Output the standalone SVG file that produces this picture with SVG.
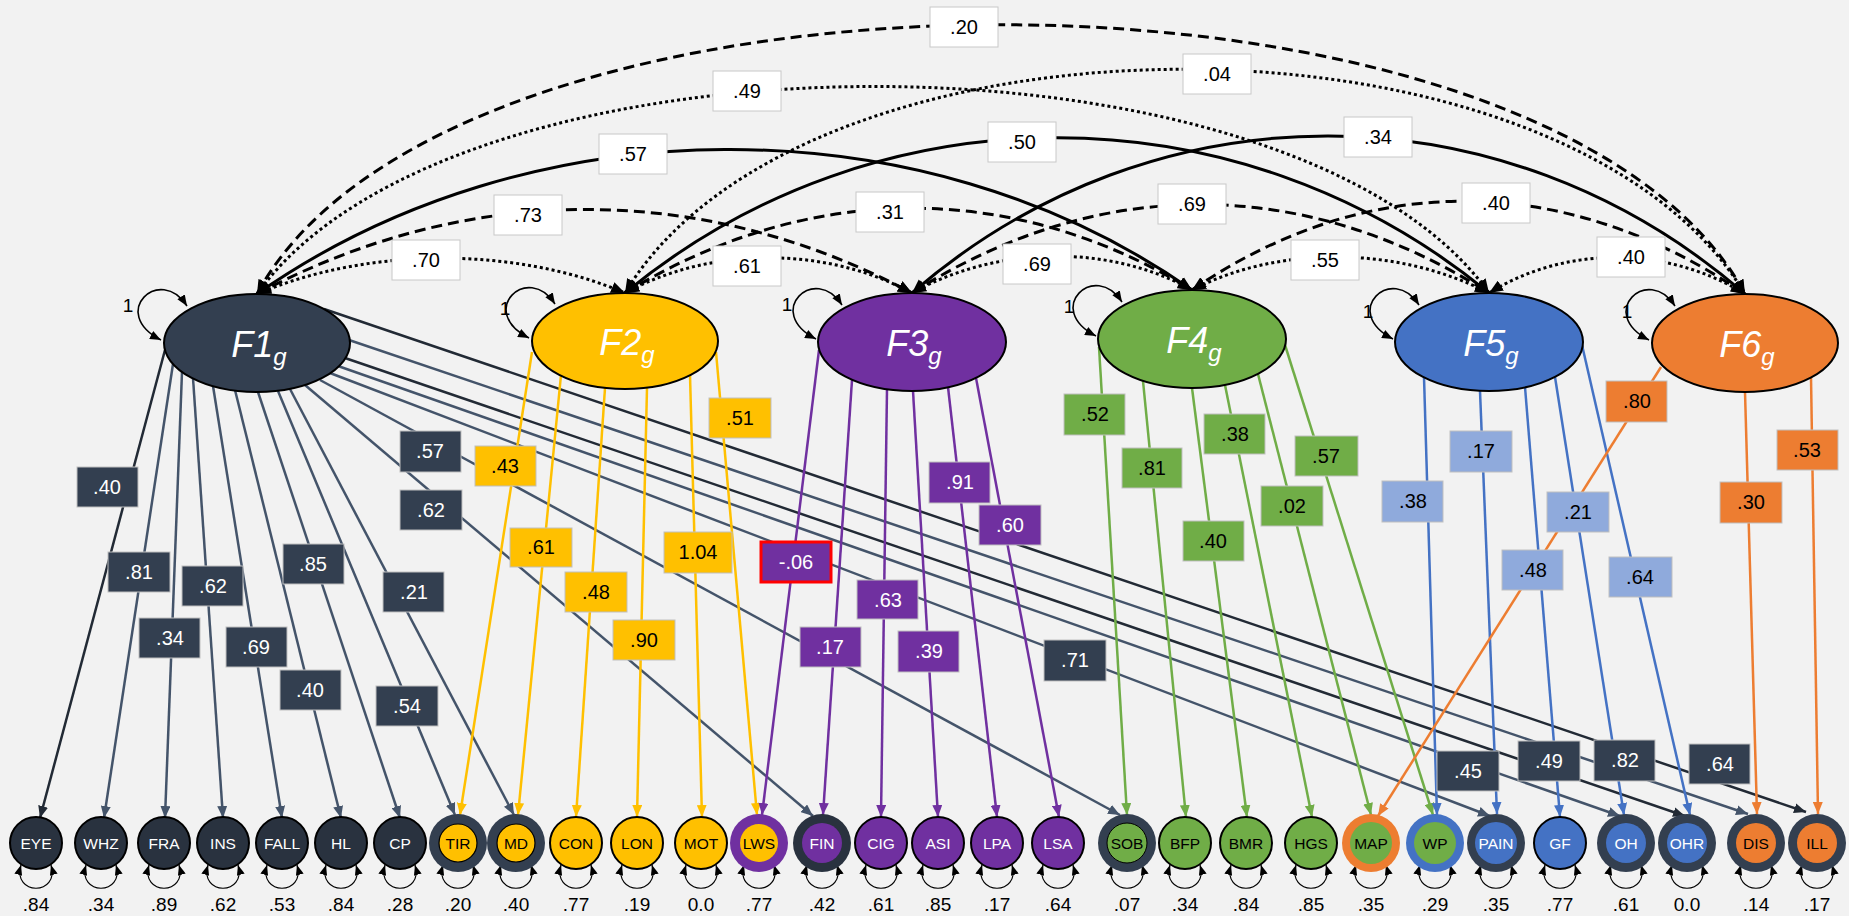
<svg xmlns="http://www.w3.org/2000/svg" width="1849" height="916" viewBox="0 0 1849 916">
<style>
text{font-family:"Liberation Sans",Arial,sans-serif}
.ld{fill:none;stroke-width:2.5}
.dk{stroke:#222A35;marker-end:url(#mdk)}
.sl{stroke:#44546A;marker-end:url(#msl)}
.ye{stroke:#FFC000;marker-end:url(#mye)}
.pu{stroke:#7030A0;marker-end:url(#mpu)}
.gr{stroke:#70AD47;marker-end:url(#mgr)}
.bl{stroke:#4472C4;marker-end:url(#mbl)}
.or{stroke:#ED7D31;marker-end:url(#mor)}
.cov{fill:none;stroke:#000;stroke-width:3;marker-start:url(#mcov);marker-end:url(#mcov)}
.dash{stroke-dasharray:11 6}
.dot{stroke-dasharray:3 3}
.loop{fill:none;stroke:#000;stroke-width:1.2;marker-start:url(#mlp);marker-end:url(#mlp)}
.lloop{fill:none;stroke:#000;stroke-width:1.6;marker-start:url(#mll);marker-end:url(#mll)}
.lat{stroke:#000;stroke-width:2}
.lt{fill:#fff;font-size:36px;font-style:italic;text-anchor:middle}
.one{font-size:19px;text-anchor:middle;fill:#000}
.box{stroke:#bfbfbf;stroke-width:1}
.wb{fill:#fff;stroke:#c8c8c8;stroke-width:1}
.bt{font-size:20px;text-anchor:middle}
.nt{font-size:15.5px;text-anchor:middle}
.num{font-size:19px;text-anchor:middle;fill:#000}
.w{fill:#fff}
.k{fill:#000}
</style>
<defs>
<marker id="mdk" viewBox="0 0 12 10" refX="12" refY="5" markerWidth="12" markerHeight="10" markerUnits="userSpaceOnUse" orient="auto"><path d="M0,0 L12,5 L0,10 z" fill="#222A35"/></marker>
<marker id="msl" viewBox="0 0 12 10" refX="12" refY="5" markerWidth="12" markerHeight="10" markerUnits="userSpaceOnUse" orient="auto"><path d="M0,0 L12,5 L0,10 z" fill="#44546A"/></marker>
<marker id="mye" viewBox="0 0 12 10" refX="12" refY="5" markerWidth="12" markerHeight="10" markerUnits="userSpaceOnUse" orient="auto"><path d="M0,0 L12,5 L0,10 z" fill="#FFC000"/></marker>
<marker id="mpu" viewBox="0 0 12 10" refX="12" refY="5" markerWidth="12" markerHeight="10" markerUnits="userSpaceOnUse" orient="auto"><path d="M0,0 L12,5 L0,10 z" fill="#7030A0"/></marker>
<marker id="mgr" viewBox="0 0 12 10" refX="12" refY="5" markerWidth="12" markerHeight="10" markerUnits="userSpaceOnUse" orient="auto"><path d="M0,0 L12,5 L0,10 z" fill="#70AD47"/></marker>
<marker id="mbl" viewBox="0 0 12 10" refX="12" refY="5" markerWidth="12" markerHeight="10" markerUnits="userSpaceOnUse" orient="auto"><path d="M0,0 L12,5 L0,10 z" fill="#4472C4"/></marker>
<marker id="mor" viewBox="0 0 12 10" refX="12" refY="5" markerWidth="12" markerHeight="10" markerUnits="userSpaceOnUse" orient="auto"><path d="M0,0 L12,5 L0,10 z" fill="#ED7D31"/></marker>
<marker id="mcov" viewBox="0 0 12 10" refX="12" refY="5" markerWidth="14" markerHeight="12" markerUnits="userSpaceOnUse" orient="auto-start-reverse"><path d="M0,0 L12,5 L0,10 z" fill="#000"/></marker>
<marker id="mlp" viewBox="0 0 10 8" refX="10" refY="4" markerWidth="10" markerHeight="8" markerUnits="userSpaceOnUse" orient="auto-start-reverse"><path d="M0,0 L10,4 L0,8 z" fill="#000"/></marker>
<marker id="mll" viewBox="0 0 10 8" refX="10" refY="4" markerWidth="11" markerHeight="9" markerUnits="userSpaceOnUse" orient="auto-start-reverse"><path d="M0,0 L10,4 L0,8 z" fill="#000"/></marker>
</defs>
<rect x="0" y="0" width="1849" height="916" fill="#F2F2F2"/>

<g id="connectors">
<line class="ld dk" x1="165" y1="350" x2="40" y2="818"/>
<line class="ld sl" x1="173" y1="364" x2="104" y2="818"/>
<line class="ld sl" x1="182" y1="372" x2="165" y2="818"/>
<line class="ld sl" x1="193" y1="378" x2="223" y2="818"/>
<line class="ld sl" x1="213" y1="386" x2="282" y2="818"/>
<line class="ld sl" x1="235" y1="390" x2="341" y2="818"/>
<line class="ld sl" x1="258" y1="392" x2="400" y2="818"/>
<line class="ld sl" x1="278" y1="391" x2="455" y2="815"/>
<line class="ld sl" x1="290" y1="389" x2="514" y2="815"/>
<line class="ld sl" x1="305" y1="385" x2="813" y2="816"/>
<line class="ld sl" x1="320" y1="380" x2="1120" y2="815"/>
<line class="ld sl" x1="330" y1="373" x2="1490" y2="816"/>
<line class="ld sl" x1="338" y1="366" x2="1620" y2="816"/>
<line class="ld dk" x1="345" y1="358" x2="1685" y2="816"/>
<line class="ld sl" x1="349" y1="340" x2="1748" y2="814"/>
<line class="ld dk" x1="324" y1="309" x2="1806" y2="812"/>
<line class="ld ye" x1="532" y1="352" x2="460" y2="815"/>
<line class="ld ye" x1="561" y1="375" x2="518" y2="815"/>
<line class="ld ye" x1="605" y1="388" x2="576" y2="817"/>
<line class="ld ye" x1="647" y1="388" x2="637" y2="817"/>
<line class="ld ye" x1="690" y1="375" x2="702" y2="817"/>
<line class="ld ye" x1="716" y1="352" x2="757" y2="815"/>
<line class="ld pu" x1="819" y1="350" x2="762" y2="815"/>
<line class="ld pu" x1="852" y1="380" x2="823" y2="815"/>
<line class="ld pu" x1="887" y1="389" x2="881" y2="817"/>
<line class="ld pu" x1="913" y1="391" x2="938" y2="817"/>
<line class="ld pu" x1="948" y1="387" x2="997" y2="817"/>
<line class="ld pu" x1="976" y1="378" x2="1059" y2="817"/>
<line class="ld gr" x1="1099" y1="347" x2="1127" y2="815"/>
<line class="ld gr" x1="1143" y1="381" x2="1186" y2="817"/>
<line class="ld gr" x1="1192" y1="388" x2="1247" y2="817"/>
<line class="ld gr" x1="1225" y1="385" x2="1312" y2="817"/>
<line class="ld gr" x1="1258" y1="374" x2="1371" y2="815"/>
<line class="ld gr" x1="1285" y1="345" x2="1433" y2="815"/>
<line class="ld bl" x1="1424" y1="377" x2="1437" y2="815"/>
<line class="ld bl" x1="1480" y1="391" x2="1497" y2="814"/>
<line class="ld bl" x1="1525" y1="387" x2="1560" y2="817"/>
<line class="ld bl" x1="1555" y1="377" x2="1624" y2="815"/>
<line class="ld bl" x1="1582" y1="345" x2="1690" y2="815"/>
<line class="ld or" x1="1661" y1="367" x2="1378" y2="816"/>
<line class="ld or" x1="1745" y1="392" x2="1757" y2="814"/>
<line class="ld or" x1="1811" y1="377" x2="1818" y2="814"/>

<path class="cov dot" d="M257,294 C367,247 515,246 625,293"/>
<path class="cov dot" d="M625,293 C711,246 826,246 912,293"/>
<path class="cov dot" d="M912,293 C996,246 1108,243 1192,290"/>
<path class="cov dot" d="M1192,290 C1281,244 1400,247 1489,293"/>
<path class="cov dot" d="M1489,293 C1566,245 1668,246 1745,294"/>
<path class="cov dash" d="M257,294 C467,182 702,181 912,293"/>
<path class="cov dash" d="M625,293 C806,182 1011,179 1192,290"/>
<path class="cov dash" d="M912,293 C1097,175 1304,175 1489,293"/>
<path class="cov dash" d="M1192,290 C1369,169 1568,173 1745,294"/>
<path class="cov" d="M257,294 C528,104 921,100 1192,290"/>
<path class="cov" d="M625,293 C876,86 1238,86 1489,293"/>
<path class="cov" d="M912,293 C1154,83 1503,84 1745,294"/>
<path class="cov dot" d="M257,294 C454,18 1292,17 1489,293"/>
<path class="cov dot" d="M625,293 C804,-6 1566,-5 1745,294"/>
<path class="cov dash" d="M257,294 C450,-65 1552,-65 1745,294"/>

<path class="lloop" d="M187,306 C160,264 108,313 161,340"/>
<path class="lloop" d="M555,304 C528,262 476,311 529,338"/>
<path class="lloop" d="M842,305 C815,263 763,312 816,339"/>
<path class="lloop" d="M1122,302 C1095,260 1043,309 1096,336"/>
<path class="lloop" d="M1419,305 C1392,263 1340,312 1393,339"/>
<path class="lloop" d="M1675,306 C1648,264 1596,313 1649,340"/>

<path class="loop" d="M21,865 C12,896 60,896 51,865"/>
<path class="loop" d="M86,865 C77,896 125,896 116,865"/>
<path class="loop" d="M149,865 C140,896 188,896 179,865"/>
<path class="loop" d="M208,865 C199,896 247,896 238,865"/>
<path class="loop" d="M267,865 C258,896 306,896 297,865"/>
<path class="loop" d="M326,865 C317,896 365,896 356,865"/>
<path class="loop" d="M385,865 C376,896 424,896 415,865"/>
<path class="loop" d="M443,865 C434,896 482,896 473,865"/>
<path class="loop" d="M501,865 C492,896 540,896 531,865"/>
<path class="loop" d="M561,865 C552,896 600,896 591,865"/>
<path class="loop" d="M622,865 C613,896 661,896 652,865"/>
<path class="loop" d="M686,865 C677,896 725,896 716,865"/>
<path class="loop" d="M744,865 C735,896 783,896 774,865"/>
<path class="loop" d="M807,865 C798,896 846,896 837,865"/>
<path class="loop" d="M866,865 C857,896 905,896 896,865"/>
<path class="loop" d="M923,865 C914,896 962,896 953,865"/>
<path class="loop" d="M982,865 C973,896 1021,896 1012,865"/>
<path class="loop" d="M1043,865 C1034,896 1082,896 1073,865"/>
<path class="loop" d="M1112,865 C1103,896 1151,896 1142,865"/>
<path class="loop" d="M1170,865 C1161,896 1209,896 1200,865"/>
<path class="loop" d="M1231,865 C1222,896 1270,896 1261,865"/>
<path class="loop" d="M1296,865 C1287,896 1335,896 1326,865"/>
<path class="loop" d="M1356,865 C1347,896 1395,896 1386,865"/>
<path class="loop" d="M1420,865 C1411,896 1459,896 1450,865"/>
<path class="loop" d="M1481,865 C1472,896 1520,896 1511,865"/>
<path class="loop" d="M1545,865 C1536,896 1584,896 1575,865"/>
<path class="loop" d="M1611,865 C1602,896 1650,896 1641,865"/>
<path class="loop" d="M1672,865 C1663,896 1711,896 1702,865"/>
<path class="loop" d="M1741,865 C1732,896 1780,896 1771,865"/>
<path class="loop" d="M1802,865 C1793,896 1841,896 1832,865"/>
</g>

<g id="labels">
<g class="wb">
<rect x="930" y="7" width="68" height="40"/>
<rect x="713" y="71" width="68" height="40"/>
<rect x="599" y="134" width="68" height="40"/>
<rect x="494" y="195" width="68" height="40"/>
<rect x="392" y="240" width="68" height="40"/>
<rect x="856" y="192" width="68" height="40"/>
<rect x="713" y="246" width="68" height="40"/>
<rect x="1183" y="54" width="68" height="40"/>
<rect x="988" y="122" width="68" height="40"/>
<rect x="1344" y="117" width="68" height="40"/>
<rect x="1158" y="184" width="68" height="40"/>
<rect x="1462" y="183" width="68" height="40"/>
<rect x="1003" y="244" width="68" height="40"/>
<rect x="1291" y="240" width="68" height="40"/>
<rect x="1597" y="237" width="68" height="40"/>
</g>
<g class="bt k">
<text x="964" y="34">.20</text>
<text x="747" y="98">.49</text>
<text x="633" y="161">.57</text>
<text x="528" y="222">.73</text>
<text x="426" y="267">.70</text>
<text x="890" y="219">.31</text>
<text x="747" y="273">.61</text>
<text x="1217" y="81">.04</text>
<text x="1022" y="149">.50</text>
<text x="1378" y="144">.34</text>
<text x="1192" y="211">.69</text>
<text x="1496" y="210">.40</text>
<text x="1037" y="271">.69</text>
<text x="1325" y="267">.55</text>
<text x="1631" y="264">.40</text>
</g>

<g fill="#333F50" class="box">
<rect x="77" y="467" width="61" height="40"/>
<rect x="108" y="552" width="62" height="40"/>
<rect x="139" y="618" width="61" height="40"/>
<rect x="182" y="566" width="61" height="40"/>
<rect x="226" y="627" width="61" height="40"/>
<rect x="283" y="544" width="61" height="40"/>
<rect x="280" y="670" width="61" height="40"/>
<rect x="383" y="572" width="61" height="40"/>
<rect x="376" y="686" width="62" height="40"/>
<rect x="400" y="431" width="61" height="41"/>
<rect x="400" y="490" width="62" height="40"/>
<rect x="1044" y="640" width="62" height="41"/>
<rect x="1437" y="751" width="62" height="40"/>
<rect x="1518" y="741" width="62" height="40"/>
<rect x="1594" y="740" width="61" height="41"/>
<rect x="1689" y="744" width="61" height="40"/>
</g>
<g class="bt w">
<text x="107" y="494">.40</text>
<text x="139" y="579">.81</text>
<text x="170" y="645">.34</text>
<text x="213" y="593">.62</text>
<text x="256" y="654">.69</text>
<text x="313" y="571">.85</text>
<text x="310" y="697">.40</text>
<text x="414" y="599">.21</text>
<text x="407" y="713">.54</text>
<text x="430" y="458">.57</text>
<text x="431" y="517">.62</text>
<text x="1075" y="667">.71</text>
<text x="1468" y="778">.45</text>
<text x="1549" y="768">.49</text>
<text x="1625" y="767">.82</text>
<text x="1720" y="771">.64</text>
</g>

<g fill="#FFC000" class="box">
<rect x="475" y="446" width="61" height="40"/>
<rect x="510" y="528" width="62" height="39"/>
<rect x="565" y="572" width="62" height="40"/>
<rect x="613" y="620" width="62" height="40"/>
<rect x="664" y="532" width="68" height="41"/>
<rect x="709" y="398" width="62" height="40"/>
</g>
<g class="bt k">
<text x="505" y="473">.43</text>
<text x="541" y="554">.61</text>
<text x="596" y="599">.48</text>
<text x="644" y="647">.90</text>
<text x="698" y="559">1.04</text>
<text x="740" y="425">.51</text>
</g>

<g fill="#7030A0" class="box">
<rect x="857" y="580" width="61" height="39"/>
<rect x="800" y="627" width="61" height="40"/>
<rect x="898" y="631" width="61" height="41"/>
<rect x="929" y="462" width="61" height="41"/>
<rect x="979" y="505" width="62" height="40"/>
</g>
<rect x="761" y="542" width="70" height="40" fill="#7030A0" stroke="#FF0000" stroke-width="3"/>
<g class="bt w">
<text x="796" y="569">-.06</text>
<text x="888" y="607">.63</text>
<text x="830" y="654">.17</text>
<text x="929" y="658">.39</text>
<text x="960" y="489">.91</text>
<text x="1010" y="532">.60</text>
</g>

<g fill="#70AD47" class="box">
<rect x="1064" y="394" width="61" height="41"/>
<rect x="1122" y="448" width="60" height="40"/>
<rect x="1204" y="414" width="61" height="40"/>
<rect x="1183" y="521" width="61" height="40"/>
<rect x="1295" y="436" width="63" height="40"/>
<rect x="1261" y="486" width="62" height="40"/>
</g>
<g class="bt k">
<text x="1095" y="421">.52</text>
<text x="1152" y="475">.81</text>
<text x="1235" y="441">.38</text>
<text x="1213" y="548">.40</text>
<text x="1326" y="463">.57</text>
<text x="1292" y="513">.02</text>
</g>

<g fill="#8FAADC" class="box">
<rect x="1382" y="481" width="61" height="41"/>
<rect x="1450" y="431" width="62" height="41"/>
<rect x="1547" y="492" width="62" height="40"/>
<rect x="1502" y="550" width="61" height="40"/>
<rect x="1609" y="557" width="63" height="40"/>
</g>
<g class="bt k">
<text x="1413" y="508">.38</text>
<text x="1481" y="458">.17</text>
<text x="1578" y="519">.21</text>
<text x="1533" y="577">.48</text>
<text x="1640" y="584">.64</text>
</g>

<g fill="#ED7D31" class="box">
<rect x="1606" y="381" width="61" height="41"/>
<rect x="1777" y="430" width="61" height="40"/>
<rect x="1720" y="482" width="62" height="41"/>
</g>
<g class="bt k">
<text x="1637" y="408">.80</text>
<text x="1807" y="457">.53</text>
<text x="1751" y="509">.30</text>
</g>

<g class="num">
<text x="36" y="911">.84</text>
<text x="101" y="911">.34</text>
<text x="164" y="911">.89</text>
<text x="223" y="911">.62</text>
<text x="282" y="911">.53</text>
<text x="341" y="911">.84</text>
<text x="400" y="911">.28</text>
<text x="458" y="911">.20</text>
<text x="516" y="911">.40</text>
<text x="576" y="911">.77</text>
<text x="637" y="911">.19</text>
<text x="701" y="911">0.0</text>
<text x="759" y="911">.77</text>
<text x="822" y="911">.42</text>
<text x="881" y="911">.61</text>
<text x="938" y="911">.85</text>
<text x="997" y="911">.17</text>
<text x="1058" y="911">.64</text>
<text x="1127" y="911">.07</text>
<text x="1185" y="911">.34</text>
<text x="1246" y="911">.84</text>
<text x="1311" y="911">.85</text>
<text x="1371" y="911">.35</text>
<text x="1435" y="911">.29</text>
<text x="1496" y="911">.35</text>
<text x="1560" y="911">.77</text>
<text x="1626" y="911">.61</text>
<text x="1687" y="911">0.0</text>
<text x="1756" y="911">.14</text>
<text x="1817" y="911">.17</text>
</g>
<g class="one">
<text x="128" y="312">1</text>
<text x="505" y="315">1</text>
<text x="787" y="311">1</text>
<text x="1069" y="313">1</text>
<text x="1368" y="318">1</text>
<text x="1627" y="318">1</text>
</g>
</g>

<g id="F1"><ellipse class="lat" cx="257" cy="343" rx="93" ry="49" fill="#333F50"/><text class="lt" x="259" y="357">F1<tspan font-size="24" dy="8">g</tspan></text></g>
<g id="F2"><ellipse class="lat" cx="625" cy="341" rx="93" ry="48" fill="#FFC000"/><text class="lt" x="627" y="355">F2<tspan font-size="24" dy="8">g</tspan></text></g>
<g id="F3"><ellipse class="lat" cx="912" cy="342" rx="94" ry="49" fill="#7030A0"/><text class="lt" x="914" y="356">F3<tspan font-size="24" dy="8">g</tspan></text></g>
<g id="F4"><ellipse class="lat" cx="1192" cy="339" rx="94" ry="49" fill="#70AD47"/><text class="lt" x="1194" y="353">F4<tspan font-size="24" dy="8">g</tspan></text></g>
<g id="F5"><ellipse class="lat" cx="1489" cy="342" rx="94" ry="49" fill="#4472C4"/><text class="lt" x="1491" y="356">F5<tspan font-size="24" dy="8">g</tspan></text></g>
<g id="F6"><ellipse class="lat" cx="1745" cy="343" rx="93" ry="49" fill="#ED7D31"/><text class="lt" x="1747" y="357">F6<tspan font-size="24" dy="8">g</tspan></text></g>

<g id="EYE"><circle cx="36" cy="843" r="26" fill="#29323F" stroke="#000" stroke-width="2"/><text class="nt w" x="36" y="849">EYE</text></g>
<g id="WHZ"><circle cx="101" cy="843" r="26" fill="#29323F" stroke="#000" stroke-width="2"/><text class="nt w" x="101" y="849">WHZ</text></g>
<g id="FRA"><circle cx="164" cy="843" r="26" fill="#29323F" stroke="#000" stroke-width="2"/><text class="nt w" x="164" y="849">FRA</text></g>
<g id="INS"><circle cx="223" cy="843" r="26" fill="#29323F" stroke="#000" stroke-width="2"/><text class="nt w" x="223" y="849">INS</text></g>
<g id="FALL"><circle cx="282" cy="843" r="26" fill="#29323F" stroke="#000" stroke-width="2"/><text class="nt w" x="282" y="849">FALL</text></g>
<g id="HL"><circle cx="341" cy="843" r="26" fill="#29323F" stroke="#000" stroke-width="2"/><text class="nt w" x="341" y="849">HL</text></g>
<g id="CP"><circle cx="400" cy="843" r="26" fill="#29323F" stroke="#000" stroke-width="2"/><text class="nt w" x="400" y="849">CP</text></g>
<g id="TIR"><circle cx="458" cy="843" r="29" fill="#333F50"/><circle cx="458" cy="843" r="19" fill="#FFC000" stroke="#000" stroke-width="1.2"/><text class="nt k" x="458" y="849">TIR</text></g>
<g id="MD"><circle cx="516" cy="843" r="29" fill="#333F50"/><circle cx="516" cy="843" r="19" fill="#FFC000" stroke="#000" stroke-width="1.2"/><text class="nt k" x="516" y="849">MD</text></g>
<g id="CON"><circle cx="576" cy="843" r="26" fill="#FFC000" stroke="#000" stroke-width="2"/><text class="nt k" x="576" y="849">CON</text></g>
<g id="LON"><circle cx="637" cy="843" r="26" fill="#FFC000" stroke="#000" stroke-width="2"/><text class="nt k" x="637" y="849">LON</text></g>
<g id="MOT"><circle cx="701" cy="843" r="26" fill="#FFC000" stroke="#000" stroke-width="2"/><text class="nt k" x="701" y="849">MOT</text></g>
<g id="LWS"><circle cx="759" cy="843" r="29" fill="#7030A0"/><circle cx="759" cy="843" r="19" fill="#FFC000"/><text class="nt k" x="759" y="849">LWS</text></g>
<g id="FIN"><circle cx="822" cy="843" r="29" fill="#29323F"/><circle cx="822" cy="843" r="20" fill="#7030A0"/><text class="nt w" x="822" y="849">FIN</text></g>
<g id="CIG"><circle cx="881" cy="843" r="26" fill="#7030A0" stroke="#000" stroke-width="2"/><text class="nt w" x="881" y="849">CIG</text></g>
<g id="ASI"><circle cx="938" cy="843" r="26" fill="#7030A0" stroke="#000" stroke-width="2"/><text class="nt w" x="938" y="849">ASI</text></g>
<g id="LPA"><circle cx="997" cy="843" r="26" fill="#7030A0" stroke="#000" stroke-width="2"/><text class="nt w" x="997" y="849">LPA</text></g>
<g id="LSA"><circle cx="1058" cy="843" r="26" fill="#7030A0" stroke="#000" stroke-width="2"/><text class="nt w" x="1058" y="849">LSA</text></g>
<g id="SOB"><circle cx="1127" cy="843" r="29" fill="#333F50"/><circle cx="1127" cy="843" r="20" fill="#70AD47" stroke="#000" stroke-width="1"/><text class="nt k" x="1127" y="849">SOB</text></g>
<g id="BFP"><circle cx="1185" cy="843" r="26" fill="#70AD47" stroke="#000" stroke-width="2"/><text class="nt k" x="1185" y="849">BFP</text></g>
<g id="BMR"><circle cx="1246" cy="843" r="26" fill="#70AD47" stroke="#000" stroke-width="2"/><text class="nt k" x="1246" y="849">BMR</text></g>
<g id="HGS"><circle cx="1311" cy="843" r="26" fill="#70AD47" stroke="#000" stroke-width="2"/><text class="nt k" x="1311" y="849">HGS</text></g>
<g id="MAP"><circle cx="1371" cy="843" r="29" fill="#ED7D31"/><circle cx="1371" cy="843" r="21" fill="#70AD47"/><text class="nt k" x="1371" y="849">MAP</text></g>
<g id="WP"><circle cx="1435" cy="843" r="29" fill="#4472C4"/><circle cx="1435" cy="843" r="21" fill="#70AD47"/><text class="nt k" x="1435" y="849">WP</text></g>
<g id="PAIN"><circle cx="1496" cy="843" r="29" fill="#333F50"/><circle cx="1496" cy="843" r="21" fill="#4472C4"/><text class="nt w" x="1496" y="849">PAIN</text></g>
<g id="GF"><circle cx="1560" cy="843" r="26" fill="#4472C4" stroke="#000" stroke-width="2"/><text class="nt w" x="1560" y="849">GF</text></g>
<g id="OH"><circle cx="1626" cy="843" r="29" fill="#333F50"/><circle cx="1626" cy="843" r="20" fill="#4472C4"/><text class="nt w" x="1626" y="849">OH</text></g>
<g id="OHR"><circle cx="1687" cy="843" r="29" fill="#333F50"/><circle cx="1687" cy="843" r="20" fill="#4472C4"/><text class="nt w" x="1687" y="849">OHR</text></g>
<g id="DIS"><circle cx="1756" cy="843" r="29" fill="#333F50"/><circle cx="1756" cy="843" r="20" fill="#ED7D31"/><text class="nt k" x="1756" y="849">DIS</text></g>
<g id="ILL"><circle cx="1817" cy="843" r="29" fill="#333F50"/><circle cx="1817" cy="843" r="20" fill="#ED7D31"/><text class="nt k" x="1817" y="849">ILL</text></g>
</svg>
